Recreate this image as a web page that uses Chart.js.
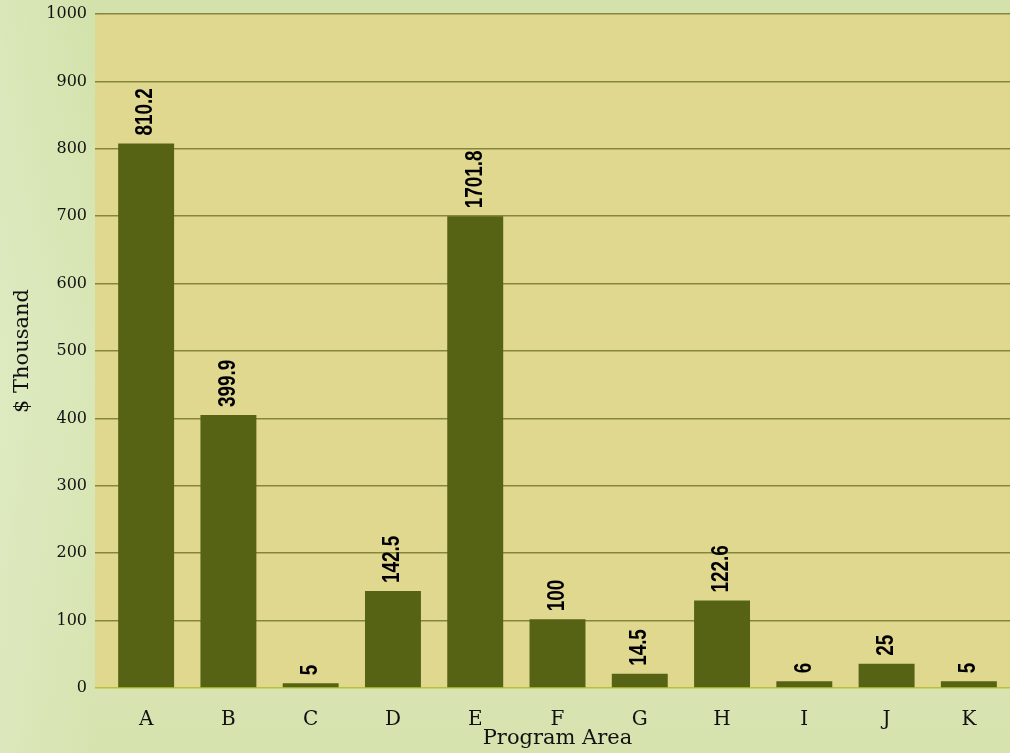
<!DOCTYPE html>
<html>
<head>
<meta charset="utf-8">
<script src="https://cdn.jsdelivr.net/npm/chart.js@4"></script>
<style>
  html, body { margin: 0; padding: 0; background: #d4e3ae; }
  #wrap { width: 1010px; height: 753px; position: relative; }
</style>
</head>
<body>
<div id="wrap"><canvas id="c"></canvas></div>
<script>
const categories = ['A', 'B', 'C', 'D', 'E', 'F', 'G', 'H', 'I', 'J', 'K'];
const barValues = [808, 405, 7, 144, 700, 102, 21, 130, 10, 36, 10];
const valueLabels = ['810.2', '399.9', '5', '142.5', '1701.8', '100', '14.5', '122.6', '6', '25', '5'];
const yTicks = [0, 100, 200, 300, 400, 500, 600, 700, 800, 900, 1000];

const bgPlugin = {
  id: 'bg',
  beforeDraw(chart) {
    const { ctx, chartArea, width, height } = chart;
    ctx.save();
    const g = ctx.createLinearGradient(0, 0, 0, height);
    g.addColorStop(0, '#d2e2aa');
    g.addColorStop(0.5, '#d9e7b8');
    g.addColorStop(1, '#d7e3af');
    ctx.fillStyle = g;
    ctx.fillRect(0, 0, width, height);
    const g2 = ctx.createLinearGradient(0, 0, 95, 0);
    g2.addColorStop(0, 'rgba(226,236,200,0.5)');
    g2.addColorStop(1, 'rgba(226,236,200,0)');
    ctx.fillStyle = g2;
    ctx.fillRect(0, 0, 95, height);
    ctx.fillStyle = '#e1d890';
    ctx.fillRect(95, chartArea.top, chartArea.right - 95, chartArea.bottom - chartArea.top);
    ctx.restore();
  }
};

const labelPlugin = {
  id: 'vlabels',
  afterDatasetsDraw(chart) {
    const { ctx } = chart;
    const meta = chart.getDatasetMeta(0);
    ctx.save();
    ctx.fillStyle = '#000';
    ctx.font = 'bold 23px "Liberation Sans", Arial, sans-serif';
    ctx.textAlign = 'left';
    ctx.textBaseline = 'middle';
    meta.data.forEach((bar, i) => {
      ctx.save();
      ctx.translate(bar.x, bar.y - 8);
      ctx.rotate(-Math.PI / 2);
      ctx.scale(0.82, 1);
      ctx.fillText(valueLabels[i], 0, 0);
      ctx.restore();
    });
    ctx.restore();
  }
};

new Chart(document.getElementById('c'), {
  type: 'bar',
  data: {
    labels: categories,
    datasets: [{
      data: barValues,
      backgroundColor: '#566314',
      borderWidth: 0,
      categoryPercentage: 1,
      barPercentage: 0.68
    }]
  },
  options: {
    responsive: true,
    maintainAspectRatio: false,
    animation: false,
    layout: { padding: { top: 11, right: 0, bottom: 0, left: 0 } },
    plugins: {
      legend: { display: false },
      tooltip: { enabled: false }
    },
    scales: {
      x: {
        grid: { display: false },
        border: { display: false },
        ticks: {
          color: '#111',
          padding: 12,
          font: { family: '"DejaVu Serif", serif', size: 20 }
        },
        title: {
          display: true,
          text: 'Program Area',
          color: '#111',
          padding: { top: 0, bottom: 2 },
          font: { family: '"DejaVu Serif", serif', size: 21 }
        },
        afterFit(scale) { scale.height = 65; }
      },
      y: {
        min: 0,
        max: 1000,
        afterBuildTicks(scale) { scale.ticks = yTicks.map(v => ({ value: v })); },
        grid: {
          color: (c) => (c.tick && c.tick.value === 0) ? '#b7c23c' : '#85853c',
          lineWidth: 1.5,
          drawTicks: true,
          tickLength: 10
        },
        border: { display: false },
        ticks: {
          color: '#111',
          padding: 8,
          font: { family: '"DejaVu Serif", serif', size: 16, lineHeight: 0.75 },
          callback: (v) => String(v)
        },
        title: {
          display: true,
          text: '$ Thousand',
          color: '#111',
          padding: { top: 10, bottom: 0 },
          font: { family: '"DejaVu Serif", serif', size: 21 }
        },
        afterFit(scale) { scale.width = 105; }
      }
    }
  },
  plugins: [bgPlugin, labelPlugin]
});
</script>
</body>
</html>
